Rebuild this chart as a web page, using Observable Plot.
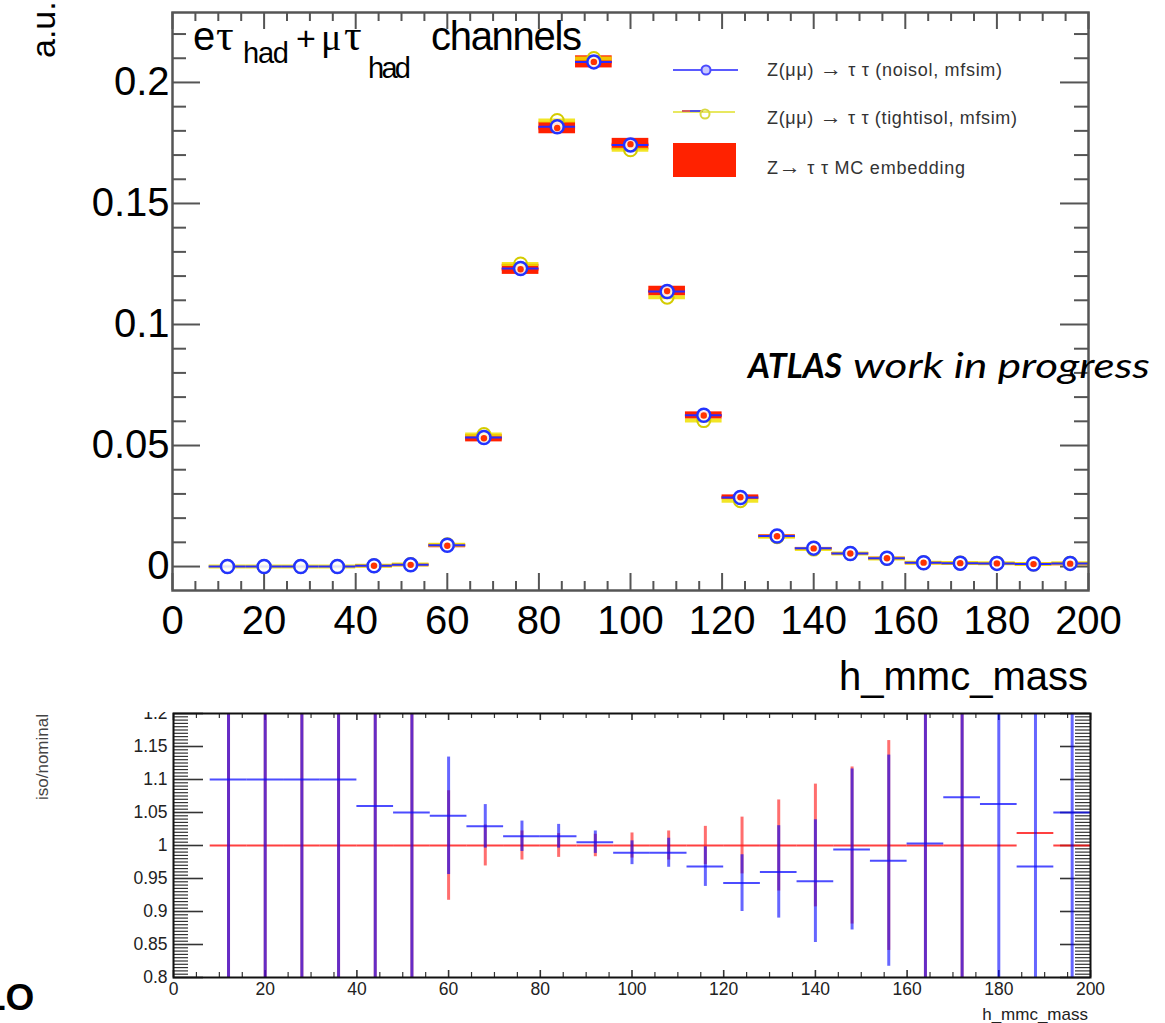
<!DOCTYPE html>
<html><head><meta charset="utf-8">
<script src="https://cdn.jsdelivr.net/npm/d3@7"></script>
<script src="https://cdn.jsdelivr.net/npm/@observablehq/plot@0.6"></script>
<style>
html,body{margin:0;padding:0;background:#fff;}
#wrap{position:relative;width:1165px;height:1023px;overflow:hidden;background:#fff;}
#topPlot{position:absolute;left:0;top:0;}
#ratioPlot{position:absolute;left:0;top:712px;}
#overlay{position:absolute;left:0;top:0;pointer-events:none;}
</style></head>
<body>
<div id="wrap">
<div id="topPlot"></div>
<div id="ratioPlot"></div>
<svg id="overlay" width="1165" height="1023" font-family="Liberation Sans, Arial, sans-serif">
  <!-- top panel y title -->
  <text transform="translate(55,58) rotate(-90)" font-size="34" fill="#000">a.u.</text>
  <!-- top panel title -->
  <g font-size="40" fill="#000">
    <text x="193" y="50">e</text>
    <text x="216" y="50" font-family="Liberation Serif, serif" font-size="44">τ</text>
    <text x="243" y="63" font-size="29" textLength="46">had</text>
    <text x="296" y="50" font-size="34">+</text>
    <text x="321" y="50" font-family="Liberation Serif, serif" font-size="38">μ</text>
    <text x="344" y="50" font-family="Liberation Serif, serif" font-size="44">τ</text>
    <text x="368" y="78" font-size="29" textLength="43">had</text>
    <text x="431" y="50" textLength="151">channels</text>
  </g>
  <!-- top panel x title -->
  <text x="1088" y="690" font-size="40" text-anchor="end" fill="#000">h_mmc_mass</text>
  <!-- legend -->
  <g>
    <line x1="673" y1="70" x2="738" y2="70" stroke="#5a5aff" stroke-width="2"/>
    <circle cx="706" cy="70" r="4.5" fill="#c8c8ff" stroke="#4a4aff" stroke-width="2"/>
    <line x1="673" y1="112" x2="735" y2="112" stroke="#e8e860" stroke-width="2"/>
    <line x1="682" y1="111" x2="703" y2="111" stroke="#d06060" stroke-width="2"/>
    <line x1="690" y1="111" x2="700" y2="111" stroke="#5050e0" stroke-width="2"/>
    <circle cx="705" cy="114" r="4.5" fill="none" stroke="#d8d840" stroke-width="2"/>
    <rect x="673" y="143" width="63" height="34" fill="#ff2200"/>
    <g font-size="18" fill="#333">
      <text x="767" y="76" textLength="235">Z(μμ) <tspan font-weight="bold" font-size="22">→</tspan> τ τ (noisol, mfsim)</text>
      <text x="767" y="124" textLength="250">Z(μμ) <tspan font-weight="bold" font-size="22">→</tspan> τ τ (tightisol, mfsim)</text>
      <text x="767" y="174" textLength="198">Z<tspan font-weight="bold" font-size="22">→</tspan> τ τ MC embedding</text>
    </g>
  </g>
  <!-- ATLAS label -->
  <g font-family="Lato, 'Open Sans', sans-serif" font-style="italic" fill="#000">
    <text x="748" y="378" font-size="35" font-weight="bold" textLength="94" lengthAdjust="spacingAndGlyphs">ATLAS</text>
    <text x="853" y="378" font-size="35" textLength="297" lengthAdjust="spacingAndGlyphs">work in progress</text>
  </g>
  <!-- ratio panel titles -->
  <text transform="translate(48,714) rotate(-90)" font-size="17" text-anchor="end" fill="#444">iso/nominal</text>
  <text x="1088" y="1020" font-size="17" text-anchor="end" fill="#222">h_mmc_mass</text>
  <!-- stray text at lower left -->
  <text x="-17" y="1010" font-size="37" font-weight="bold" fill="#000">LO</text>
</svg>
</div>
<script>
// ---------------- data ----------------
const massBins = [12,20,28,36,44,52,60,68,76,84,92,100,108,116,124,132,140,148,156,164,172,180,188,196];
const binWidth = 8;
const noIsol    = [0,0,0,0,0.0003,0.0007,0.0088,0.0533,0.1231,0.1817,0.2085,0.1742,0.1136,0.0625,0.0285,0.0126,0.0076,0.0054,0.0034,0.0016,0.0014,0.0013,0.0010,0.0013];
const tightIsol = [0,0,0,0,0.0003,0.0008,0.0090,0.0545,0.1250,0.1843,0.2099,0.1722,0.1113,0.0603,0.0272,0.0123,0.0072,0.0054,0.0033,0.0016,0.0015,0.0014,0.0010,0.0014];
const embedding = [0,0,0,0,0.0003,0.0007,0.0086,0.0530,0.1228,0.1812,0.2085,0.1745,0.1138,0.0624,0.0286,0.0125,0.0075,0.0054,0.0034,0.0016,0.0014,0.0013,0.0010,0.0012];
const embeddingErr = [0,0,0,0,0.0002,0.0002,0.0007,0.0015,0.0021,0.0024,0.0025,0.0024,0.0020,0.0015,0.0010,0.0006,0.0004,0.0004,0.0004,0.0003,0.0003,0.0003,0.0003,0.0003];

const ratioIso    = [1.1,1.1,1.1,1.1,1.06,1.05,1.045,1.029,1.014,1.014,1.005,0.989,0.989,0.968,0.943,0.960,0.946,0.994,0.977,1.003,1.073,1.063,0.968,1.050];
const ratioIsoErr = [0.5,0.5,0.5,0.5,0.5,0.5,0.089,0.033,0.023,0.018,0.017,0.018,0.022,0.030,0.043,0.070,0.093,0.122,0.160,0.5,0.5,0.5,0.5,0.5];
const ratioEmb    = [1,1,1,1,1,1,1,1,1,1,1,1,1,1,1,1,1,1,1,1,1,1,1.019,1];
const ratioEmbErr = [0.5,0.5,0.5,0.5,0.5,0.5,0.083,0.031,0.022,0.018,0.017,0.019,0.022,0.029,0.043,0.069,0.093,0.119,0.159,0.5,0.5,0,0,0];

const xTickLabels = [0,20,40,60,80,100,120,140,160,180,200];
const topYTickLabels = [0,0.05,0.1,0.15,0.2];
const ratioYTickLabels = [0.8,0.85,0.9,0.95,1,1.05,1.1,1.15,1.2];

// ---------------- derived table ----------------
const rows = massBins.map((m,i)=>({
  m, lo: m - binWidth/2, hi: m + binWidth/2,
  noIsol: noIsol[i], tight: tightIsol[i], emb: embedding[i], embErr: embeddingErr[i],
  rIso: ratioIso[i], rIsoErr: ratioIsoErr[i], rEmb: ratioEmb[i], rEmbErr: ratioEmbErr[i]
}));

const xMinor = d3.range(0, 201, 5).filter(d => d % 20 !== 0);
const topYMinor = d3.range(0, 23).filter(i => i % 5 !== 0).map(i => i / 100);
const ratioYMinor = d3.range(160, 241).filter(i => i % 10 !== 0).map(i => i / 200);

// ---------------- top panel ----------------
const TW = 1165, TH = 712, tML = 172, tMR = 77, tMT = 12, tMB = 122;
const tFW = TW - tML - tMR, tFH = TH - tMT - tMB;
const tickCol = "#555";

const topPlot = Plot.plot({
  width: TW, height: TH,
  marginLeft: tML, marginRight: tMR, marginTop: tMT, marginBottom: tMB,
  style: {fontFamily: "Liberation Sans, Arial, sans-serif", fontSize: "40px", color: "#000", background: "white"},
  x: {domain: [0, 200], ticks: xTickLabels, tickSize: 0, tickPadding: 15, label: null, tickFormat: d => String(d)},
  y: {domain: [-0.0099, 0.2289], ticks: topYTickLabels, tickSize: 0, tickPadding: 3, label: null, tickFormat: d => String(d)},
  marks: [
    // inward ROOT-style ticks
    Plot.tickX(xTickLabels, {x: d => d, insetTop: tFH - 17, stroke: tickCol, strokeWidth: 2}),
    Plot.tickX(xTickLabels, {x: d => d, insetBottom: tFH - 17, stroke: tickCol, strokeWidth: 2}),
    Plot.tickX(xMinor, {x: d => d, insetTop: tFH - 9, stroke: tickCol, strokeWidth: 2}),
    Plot.tickX(xMinor, {x: d => d, insetBottom: tFH - 9, stroke: tickCol, strokeWidth: 2}),
    Plot.tickY(topYTickLabels, {y: d => d, insetRight: tFW - 28, stroke: tickCol, strokeWidth: 2}),
    Plot.tickY(topYTickLabels, {y: d => d, insetLeft: tFW - 28, stroke: tickCol, strokeWidth: 2}),
    Plot.tickY(topYMinor, {y: d => d, insetRight: tFW - 14, stroke: tickCol, strokeWidth: 2}),
    Plot.tickY(topYMinor, {y: d => d, insetLeft: tFW - 14, stroke: tickCol, strokeWidth: 2}),
    // embedding error box
    Plot.rect(rows.filter(r => r.emb > 0), {x1: "lo", x2: "hi", y1: r => r.emb - r.embErr, y2: r => r.emb + r.embErr, fill: "#ff2000"}),
    Plot.ruleY(rows.filter(r => r.emb > 0), {x1: "lo", x2: "hi", y: "emb", stroke: "#ff2000", strokeWidth: 3}),
    // tight isolation
    Plot.ruleY(rows, {x1: "lo", x2: "hi", y: "tight", stroke: "#f0e000", strokeWidth: 4, strokeOpacity: 0.85}),
    // no isolation
    Plot.ruleY(rows, {x1: "lo", x2: "hi", y: "noIsol", stroke: "#2a2aff", strokeWidth: 2}),
    Plot.dot(rows, {x: "m", y: "tight", r: 6.5, stroke: "#d4cc00", strokeWidth: 2, fill: "none"}),
    Plot.dot(rows, {x: "m", y: "noIsol", r: 6.5, stroke: "#2233ff", strokeWidth: 2.5, fill: "white", fillOpacity: 0.85}),
    Plot.dot(rows.filter(r => r.emb > 0), {x: "m", y: "emb", r: 3.2, fill: "#ff3300"}),
    Plot.frame({stroke: "#555", strokeWidth: 2.5})
  ]
});
document.getElementById("topPlot").appendChild(topPlot);

// ---------------- ratio panel ----------------
const RW = 1165, RH = 311, rML = 173, rMR = 75, rMT = 1, rMB = 46;
const rFW = RW - rML - rMR, rFH = RH - rMT - rMB;
const rTick = "#333";

const ratioPlot = Plot.plot({
  width: RW, height: RH,
  marginLeft: rML, marginRight: rMR, marginTop: rMT, marginBottom: rMB,
  style: {fontFamily: "Liberation Sans, Arial, sans-serif", fontSize: "17.5px", color: "#222", background: "white"},
  x: {domain: [0, 200], ticks: xTickLabels, tickSize: 0, tickPadding: 5, label: null, tickFormat: d => String(d)},
  y: {domain: [0.8, 1.2], clamp: true, ticks: ratioYTickLabels, tickSize: 0, tickPadding: 6, label: null, tickFormat: d => String(+d.toFixed(2))},
  marks: [
    Plot.tickY(ratioYTickLabels, {y: d => d, insetRight: rFW - 30, stroke: rTick, strokeWidth: 1.6}),
    Plot.tickY(ratioYTickLabels, {y: d => d, insetLeft: rFW - 30, stroke: rTick, strokeWidth: 1.6}),
    Plot.tickY(ratioYMinor, {y: d => d, insetRight: rFW - 15, stroke: rTick, strokeWidth: 1.2}),
    Plot.tickY(ratioYMinor, {y: d => d, insetLeft: rFW - 15, stroke: rTick, strokeWidth: 1.2}),
    Plot.tickX(xTickLabels, {x: d => d, insetTop: rFH - 7, stroke: rTick, strokeWidth: 1.6}),
    Plot.tickX(xTickLabels, {x: d => d, insetBottom: rFH - 7, stroke: rTick, strokeWidth: 1.6}),
    Plot.tickX(xMinor, {x: d => d, insetTop: rFH - 5, stroke: rTick, strokeWidth: 1.2}),
    Plot.tickX(xMinor, {x: d => d, insetBottom: rFH - 5, stroke: rTick, strokeWidth: 1.2}),
    // embedding / embedding
    Plot.ruleY(rows, {x1: "lo", x2: "hi", y: "rEmb", stroke: "#ff1010", strokeOpacity: 0.8, strokeWidth: 2}),
    Plot.ruleX(rows.filter(r => r.rEmbErr > 0), {x: "m", y1: r => r.rEmb - r.rEmbErr, y2: r => r.rEmb + r.rEmbErr, stroke: "#ff2020", strokeOpacity: 0.65, strokeWidth: 3}),
    // iso / nominal
    Plot.ruleX(rows.filter(r => r.rIsoErr > 0), {x: "m", y1: r => r.rIso - r.rIsoErr, y2: r => r.rIso + r.rIsoErr, stroke: "#0000ff", strokeOpacity: 0.6, strokeWidth: 3}),
    Plot.ruleY(rows, {x1: "lo", x2: "hi", y: "rIso", stroke: "#1010ff", strokeOpacity: 0.75, strokeWidth: 2}),
    Plot.frame({stroke: "#111", strokeWidth: 2})
  ]
});
document.getElementById("ratioPlot").appendChild(ratioPlot);
</script>
</body></html>
